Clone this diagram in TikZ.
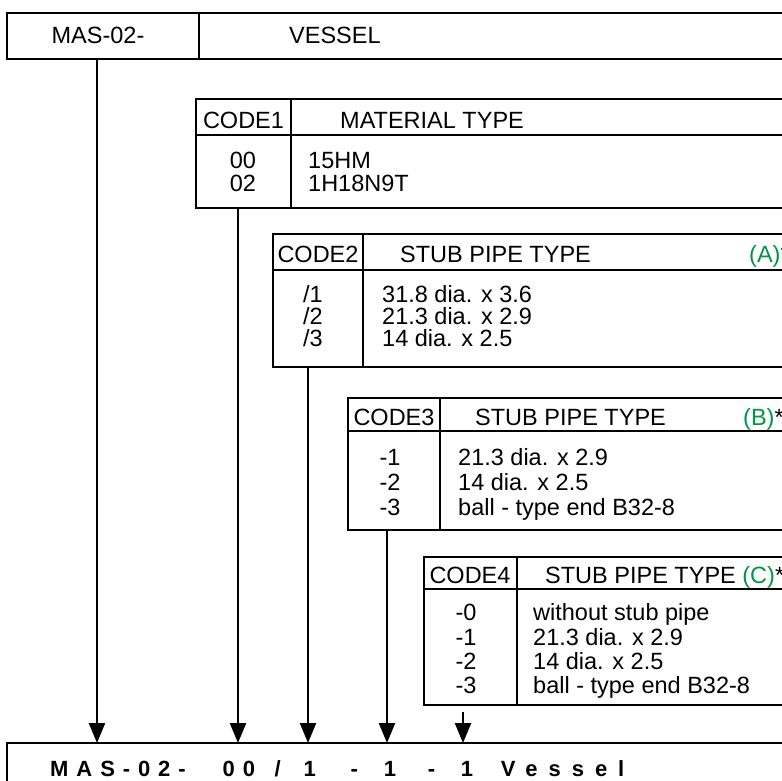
\documentclass[tikz,border=0pt]{standalone}
\usepackage{fontspec}
\setmainfont{Liberation Sans}
\usetikzlibrary{arrows.meta}
\definecolor{codegreen}{RGB}{0,150,70}
\begin{document}
\begin{tikzpicture}[x=1pt,y=-1pt,
  box/.style={draw, line width=2.8pt, inner sep=0pt, outer sep=0pt, anchor=north west},
  rule/.style={line width=2.4pt},
  conn/.style={line width=2.4pt, -{Triangle[length=20pt,width=16pt]}},
  txt/.style={inner sep=0pt, anchor=base west, font=\fontsize{23.5}{24}\selectfont},
  ctxt/.style={txt, anchor=base},
  note/.style={txt, text=codegreen},
  big/.style={inner sep=0pt, anchor=base west, font=\fontsize{22}{24}\selectfont\bfseries\addfontfeature{LetterSpace=36}}]
\useasboundingbox (0,0) rectangle (782,780);
\clip (0,0) rectangle (782,780);
% boxes
\node[box, minimum width=800pt, minimum height=46pt] (top) at (7,13) {};
\node[box, minimum width=700pt, minimum height=109pt] (c1) at (196,99) {};
\node[box, minimum width=600pt, minimum height=133pt] (c2) at (273,234) {};
\node[box, minimum width=500pt, minimum height=132pt] (c3) at (348,398) {};
\node[box, minimum width=400pt, minimum height=148pt] (c4) at (424,557) {};
\node[box, minimum width=800pt, minimum height=60pt] (bot) at (7,743) {};
% dividers and header rules
\draw[rule] (199,13) -- (199,59);
\draw[rule] (196,135) -- (800,135);
\draw[rule] (291,99) -- (291,208);
\draw[rule] (273,270) -- (800,270);
\draw[rule] (363,234) -- (363,367);
\draw[rule] (348,431) -- (800,431);
\draw[rule] (440,398) -- (440,530);
\draw[rule] (424,589) -- (800,589);
\draw[rule] (517,557) -- (517,705);
% top
\node[ctxt] (tA) at (98,43) {MAS-02-};
\node[txt] (tB) at (289,43) {VESSEL};
% code1
\node[ctxt] (h1) at (243.5,128) {CODE1};
\node[txt] (h1b) at (340,128) {MATERIAL TYPE};
\node[ctxt] (k11) at (243,168) {00};
\node[ctxt] (k12) at (243,191) {02};
\node[txt] (v11) at (308,168) {15HM};
\node[txt] (v12) at (308,191) {1H18N9T};
% code2
\node[ctxt] (h2) at (318,262) {CODE2};
\node[txt] (h2b) at (400,262) {STUB PIPE TYPE};
\node[txt] (h2c) at (749,262) {\textcolor{codegreen}{(A)}*};
\node[ctxt] (k21) at (313,302) {/1};
\node[ctxt] (k22) at (313,324) {/2};
\node[ctxt] (k23) at (313,346) {/3};
\node[txt] (v21) at (382,302) {31.8 dia. x 3.6};
\node[txt] (v22) at (382,324) {21.3 dia. x 2.9};
\node[txt] (v23) at (382,346) {14 dia. x 2.5};
% code3
\node[ctxt] (h3) at (394,425) {CODE3};
\node[txt] (h3b) at (475,425) {STUB PIPE TYPE};
\node[txt] (h3c) at (743,425) {\textcolor{codegreen}{(B)}*};
\node[ctxt] (k31) at (390,465) {-1};
\node[ctxt] (k32) at (390,490) {-2};
\node[ctxt] (k33) at (390,515) {-3};
\node[txt] (v31) at (458,465) {21.3 dia. x 2.9};
\node[txt] (v32) at (458,490) {14 dia. x 2.5};
\node[txt] (v33) at (458,515) {ball - type end B32-8};
% code4
\node[ctxt] (h4) at (470,583) {CODE4};
\node[txt] (h4b) at (545,583) {STUB PIPE TYPE \textcolor{codegreen}{(C)}*};
\node[ctxt] (k41) at (466,620) {-0};
\node[ctxt] (k42) at (466,645) {-1};
\node[ctxt] (k43) at (466,669) {-2};
\node[ctxt] (k44) at (466,693) {-3};
\node[txt] (v41) at (533,620) {without stub pipe};
\node[txt] (v42) at (533,645) {21.3 dia. x 2.9};
\node[txt] (v43) at (533,669) {14 dia. x 2.5};
\node[txt] (v44) at (533,693) {ball - type end B32-8};
% bottom text
\node[big] (code) at (50,776) {MAS-02-\hspace{37pt}00\hspace{19.6pt}/\hspace{22.9pt}1\hspace{34.8pt}-\hspace{25.7pt}1\hspace{31.8pt}-\hspace{25.7pt}1\hspace{27.8pt}{\addfontfeature{LetterSpace=50}Vessel}};
% connectors
\coordinate (x1) at (97,0);
\coordinate (x2) at (238,0);
\coordinate (x3) at (308,0);
\coordinate (x4) at (387,0);
\coordinate (x5) at (463,0);
\coordinate (s5) at (463,712);
\draw[conn] (top.south -| x1) -- (bot.north -| x1);
\draw[conn] (c1.south -| x2) -- (bot.north -| x2);
\draw[conn] (c2.south -| x3) -- (bot.north -| x3);
\draw[conn] (c3.south -| x4) -- (bot.north -| x4);
\draw[conn] (s5) -- (bot.north -| x5);
\end{tikzpicture}
\end{document}
